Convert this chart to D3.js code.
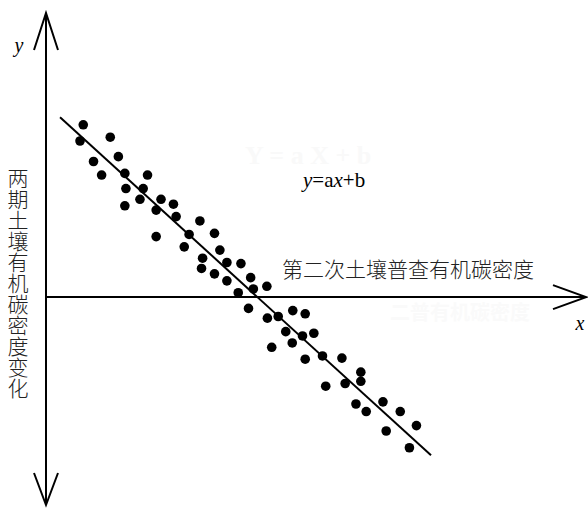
<!DOCTYPE html>
<html>
<head>
<meta charset="utf-8">
<script src="https://cdn.jsdelivr.net/npm/d3@7"></script>
<style>
  body { margin: 0; background: #fff; }
  svg { display: block; }
</style>
</head>
<body>
<div id="chart"></div>
<script>
// scatter points (x: 第二次土壤普查有机碳密度, y: 两期变化), arbitrary units
const xValues = [6.9, 6.3, 11.9, 8.8, 13.4, 10.3, 14.6, 18.8, 14.8, 18.0,
                 14.6, 17.4, 21.3, 20.4, 23.6, 24.1, 20.4, 26.5, 28.5, 25.6,
                 31.2, 29.0, 28.8, 32.2, 33.5, 36.1, 31.2, 33.5, 37.9, 38.4,
                 40.9, 35.6, 37.5, 41.0, 43.0, 45.7, 48.0, 44.4, 47.5, 49.6,
                 45.6, 41.8, 48.0, 51.2, 54.8, 58.3, 58.3, 55.4, 51.8, 62.4,
                 57.4, 59.3, 65.6, 63.0, 68.6, 67.3];
const yValues = [31.9, 28.9, 29.6, 25.1, 26.0, 22.6, 22.9, 22.6, 20.1, 20.1,
                 16.9, 18.1, 18.1, 16.1, 17.2, 14.9, 11.2, 11.6, 14.1, 9.3,
                 11.8, 7.2, 5.3, 8.7, 6.4, 6.2, 4.3, 3.0, 3.6, 1.5,
                 2.0, 0.8, -2.1, -3.9, -3.6, -2.5, -3.1, -6.4, -7.2, -6.7,
                 -8.5, -9.3, -11.5, -10.9, -11.3, -13.9, -15.6, -16.0, -16.5, -19.4,
                 -19.8, -21.2, -21.2, -24.8, -23.8, -27.9];

// fitted line y = ax + b, two end points
const fitX = [2.6, 71.3];
const fitY = [33.3, -29.3];

const xLabel = "第二次土壤普查有机碳密度";
const yLabel = "两期土壤有机碳密度变化";

const width = 588, height = 508;

const x = d3.scaleLinear().domain([0, 100]).range([46, 586]);
const y = d3.scaleLinear().domain([-38.5, 52.6]).range([505, 13]);

const svg = d3.select("#chart").append("svg")
    .attr("width", width)
    .attr("height", height);

// faint ghost texts left in the scanned figure
svg.append("text")
    .attr("x", 245).attr("y", 164)
    .attr("font-family", "Liberation Serif, serif")
    .attr("font-size", 26).attr("font-weight", "bold")
    .attr("fill", "#f9f9f9")
    .text("Y = a X + b");
svg.append("text")
    .attr("x", 390).attr("y", 320)
    .attr("font-family", "Noto Sans CJK SC, sans-serif")
    .attr("font-size", 20).attr("font-weight", "bold")
    .attr("fill", "#fafafa")
    .text("二普有机碳密度");

const stroke = "#000";

// y axis with arrows at both ends
const x0 = x(0), y0 = y(0);
svg.append("line")
    .attr("x1", x0).attr("x2", x0)
    .attr("y1", y.range()[1]).attr("y2", y.range()[0])
    .attr("stroke", stroke).attr("stroke-width", 2);
svg.append("path")
    .attr("d", `M${x0 - 12},${y.range()[1] + 37} L${x0},${y.range()[1]} L${x0 + 12},${y.range()[1] + 37}`)
    .attr("fill", "none").attr("stroke", stroke).attr("stroke-width", 2);
svg.append("path")
    .attr("d", `M${x0 - 12},${y.range()[0] - 32} L${x0},${y.range()[0]} L${x0 + 12},${y.range()[0] - 32}`)
    .attr("fill", "none").attr("stroke", stroke).attr("stroke-width", 2);

// x axis with arrow
svg.append("line")
    .attr("x1", x0).attr("x2", x.range()[1])
    .attr("y1", y0).attr("y2", y0)
    .attr("stroke", stroke).attr("stroke-width", 2);
svg.append("path")
    .attr("d", `M${x.range()[1] - 33},${y0 - 12} L${x.range()[1]},${y0} L${x.range()[1] - 33},${y0 + 12}`)
    .attr("fill", "none").attr("stroke", stroke).attr("stroke-width", 2);

// axis letters
svg.append("text")
    .attr("x", 19).attr("y", 52)
    .attr("text-anchor", "middle")
    .attr("font-family", "Liberation Serif, serif")
    .attr("font-style", "italic").attr("font-size", 20)
    .text("y");
svg.append("text")
    .attr("x", 580).attr("y", 330)
    .attr("text-anchor", "middle")
    .attr("font-family", "Liberation Serif, serif")
    .attr("font-style", "italic").attr("font-size", 20)
    .text("x");

// regression line
svg.append("line")
    .attr("x1", x(fitX[0])).attr("y1", y(fitY[0]))
    .attr("x2", x(fitX[1])).attr("y2", y(fitY[1]))
    .attr("stroke", stroke).attr("stroke-width", 2);

// points
svg.selectAll(".dot")
    .data(xValues.map((d, i) => [d, yValues[i]]))
    .enter()
    .append("circle")
    .attr("class", "dot")
    .attr("cx", d => x(d[0]))
    .attr("cy", d => y(d[1]))
    .attr("r", 4.8)
    .attr("fill", "#000");

// equation
const eq = svg.append("text")
    .attr("x", 303).attr("y", 187)
    .attr("font-family", "Liberation Serif, serif")
    .attr("font-size", 21);
eq.append("tspan").attr("font-style", "italic").text("y");
eq.append("tspan").text("=a");
eq.append("tspan").attr("font-style", "italic").text("x");
eq.append("tspan").text("+b");

// horizontal chinese label
svg.append("text")
    .attr("x", 282).attr("y", 268)
    .attr("dominant-baseline", "central")
    .attr("font-family", "Noto Sans CJK SC, sans-serif")
    .attr("font-weight", 300)
    .attr("font-size", 21)
    .attr("fill", "#222")
    .text(xLabel);

// vertical chinese label as a single vertical line of text
svg.append("text")
    .attr("x", 18)
    .attr("y", 168)
    .style("writing-mode", "vertical-rl")
    .attr("font-family", "Noto Sans CJK SC, sans-serif")
    .attr("font-weight", 300)
    .attr("font-size", 21)
    .attr("fill", "#222")
    .text(yLabel);
</script>
</body>
</html>
